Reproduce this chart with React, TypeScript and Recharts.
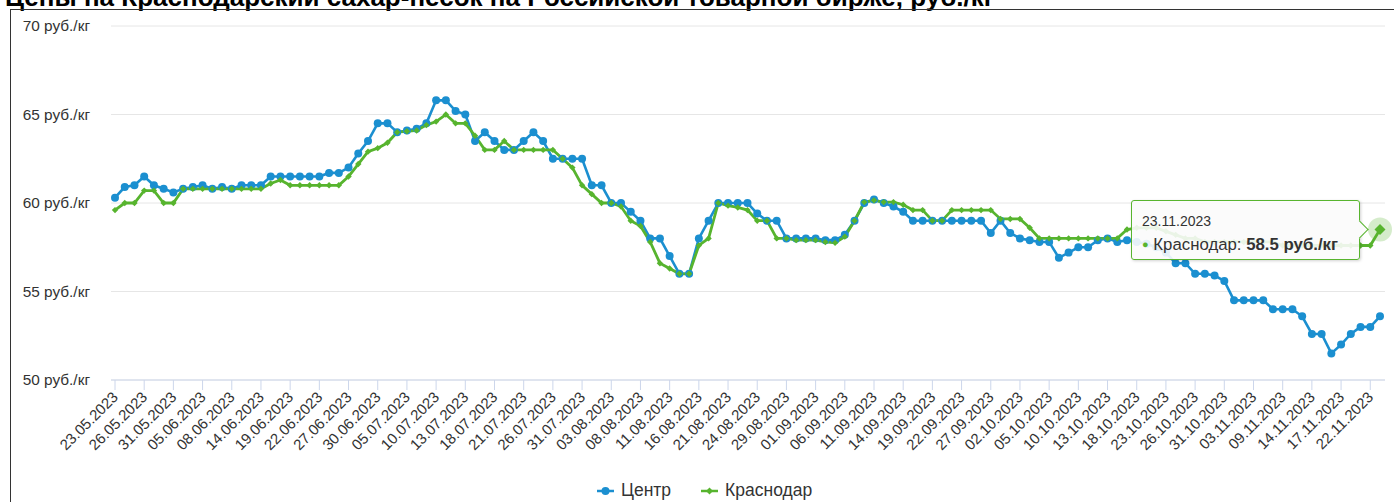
import { LineChart, Line, XAxis, YAxis, CartesianGrid, Tooltip, Legend } from "recharts";

const title = "Цены на Краснодарский сахар-песок на Российской товарной бирже, руб./кг";

// trading days, 23.05.2023 - 23.11.2023
const dates = [
  "23.05.2023", "24.05.2023", "25.05.2023", "26.05.2023", "29.05.2023", "30.05.2023", "31.05.2023",
  "01.06.2023", "02.06.2023", "05.06.2023", "06.06.2023", "07.06.2023", "08.06.2023", "09.06.2023",
  "13.06.2023", "14.06.2023", "15.06.2023", "16.06.2023", "19.06.2023", "20.06.2023", "21.06.2023",
  "22.06.2023", "23.06.2023", "26.06.2023", "27.06.2023", "28.06.2023", "29.06.2023", "30.06.2023",
  "03.07.2023", "04.07.2023", "05.07.2023", "06.07.2023", "07.07.2023", "10.07.2023", "11.07.2023",
  "12.07.2023", "13.07.2023", "14.07.2023", "17.07.2023", "18.07.2023", "19.07.2023", "20.07.2023",
  "21.07.2023", "24.07.2023", "25.07.2023", "26.07.2023", "27.07.2023", "28.07.2023", "31.07.2023",
  "01.08.2023", "02.08.2023", "03.08.2023", "04.08.2023", "07.08.2023", "08.08.2023", "09.08.2023",
  "10.08.2023", "11.08.2023", "14.08.2023", "15.08.2023", "16.08.2023", "17.08.2023", "18.08.2023",
  "21.08.2023", "22.08.2023", "23.08.2023", "24.08.2023", "25.08.2023", "28.08.2023", "29.08.2023",
  "30.08.2023", "31.08.2023", "01.09.2023", "04.09.2023", "05.09.2023", "06.09.2023", "07.09.2023",
  "08.09.2023", "11.09.2023", "12.09.2023", "13.09.2023", "14.09.2023", "15.09.2023", "18.09.2023",
  "19.09.2023", "20.09.2023", "21.09.2023", "22.09.2023", "25.09.2023", "26.09.2023", "27.09.2023",
  "28.09.2023", "29.09.2023", "02.10.2023", "03.10.2023", "04.10.2023", "05.10.2023", "06.10.2023",
  "09.10.2023", "10.10.2023", "11.10.2023", "12.10.2023", "13.10.2023", "16.10.2023", "17.10.2023",
  "18.10.2023", "19.10.2023", "20.10.2023", "23.10.2023", "24.10.2023", "25.10.2023", "26.10.2023",
  "27.10.2023", "30.10.2023", "31.10.2023", "01.11.2023", "02.11.2023", "03.11.2023", "07.11.2023",
  "08.11.2023", "09.11.2023", "10.11.2023", "13.11.2023", "14.11.2023", "15.11.2023", "16.11.2023",
  "17.11.2023", "20.11.2023", "21.11.2023", "22.11.2023", "23.11.2023",
];

const centr = [
  60.3, 60.9, 61.0, 61.5, 61.0, 60.8, 60.6, 60.8, 60.9, 61.0,
  60.8, 60.9, 60.8, 61.0, 61.0, 61.0, 61.5, 61.5, 61.5, 61.5,
  61.5, 61.5, 61.7, 61.7, 62.0, 62.8, 63.5, 64.5, 64.5, 64.0,
  64.1, 64.2, 64.5, 65.8, 65.8, 65.2, 65.0, 63.5, 64.0, 63.5,
  63.0, 63.0, 63.5, 64.0, 63.5, 62.5, 62.5, 62.5, 62.5, 61.0,
  61.0, 60.0, 60.0, 59.5, 59.0, 58.0, 58.0, 57.0, 56.0, 56.0,
  58.0, 59.0, 60.0, 60.0, 60.0, 60.0, 59.4, 59.0, 59.0, 58.0,
  58.0, 58.0, 58.0, 57.9, 57.9, 58.2, 59.0, 60.0, 60.2, 60.0,
  59.8, 59.5, 59.0, 59.0, 59.0, 59.0, 59.0, 59.0, 59.0, 59.0,
  58.3, 59.0, 58.3, 58.0, 57.9, 57.8, 57.8, 56.9, 57.2, 57.5,
  57.5, 57.9, 58.0, 57.8, 57.9, 57.8, 57.7, 57.5, 57.2, 56.6,
  56.6, 56.0, 56.0, 55.9, 55.6, 54.5, 54.5, 54.5, 54.5, 54.0,
  54.0, 54.0, 53.6, 52.6, 52.6, 51.5, 52.0, 52.6, 53.0, 53.0,
  53.6,
];

const krasnodar = [
  59.6, 60.0, 60.0, 60.7, 60.7, 60.0, 60.0, 60.8, 60.8, 60.8,
  60.8, 60.8, 60.8, 60.8, 60.8, 60.8, 61.1, 61.3, 61.0, 61.0,
  61.0, 61.0, 61.0, 61.0, 61.5, 62.2, 62.9, 63.1, 63.4, 64.0,
  64.05, 64.1, 64.4, 64.6, 65.0, 64.5, 64.5, 63.8, 63.0, 63.0,
  63.5, 63.0, 63.0, 63.0, 63.0, 63.0, 62.5, 62.0, 61.0, 60.5,
  60.0, 60.0, 59.8, 59.0, 58.7, 57.8, 56.6, 56.3, 56.0, 56.0,
  57.6, 58.0, 60.0, 59.85, 59.75, 59.6, 59.0, 59.0, 58.0, 58.0,
  57.9, 57.9, 57.9, 57.8, 57.75, 58.1, 59.0, 60.05, 60.15, 60.05,
  60.05, 59.9, 59.6, 59.6, 59.0, 59.0, 59.6, 59.6, 59.6, 59.6,
  59.6, 59.1, 59.1, 59.1, 58.6, 58.0, 58.0, 58.0, 58.0, 58.0,
  58.0, 58.0, 58.0, 58.0, 58.5, 58.6, 58.6, 58.6, 58.4, 58.2,
  58.0, 58.0, 57.8, 57.8, 57.8, 57.8, 57.8, 57.8, 57.8, 57.8,
  57.6, 57.6, 57.6, 57.6, 57.6, 57.6, 57.6, 57.6, 57.6, 57.6,
  58.5,
];

const seriesNames = ["Центр", "Краснодар"];
const yTicks = [50, 55, 60, 65, 70];

const data = dates.map((date, i) => ({ date, centr: centr[i], krasnodar: krasnodar[i] }));

const BLUE = "#1b8fd0";
const GREEN = "#57b42e";
const FONT = '"Liberation Sans", Arial, sans-serif';

function DateTick(props: any) {
  const { x, y, payload } = props;
  const ax = x + 4;
  const ay = y + 6;
  return (
    <text
      x={ax}
      y={ay}
      transform={`rotate(-45 ${ax} ${ay})`}
      textAnchor="end"
      fontSize={15}
      fill="#333"
      fontFamily={FONT}
    >
      {payload.value}
    </text>
  );
}

function diamondPath(cx: number, cy: number, r: number) {
  return `M${cx} ${cy - r}L${cx + r} ${cy}L${cx} ${cy + r}L${cx - r} ${cy}Z`;
}

function GreenDot(props: any) {
  const { cx, cy, index } = props;
  if (cx == null || cy == null) return <g key={index} />;
  return <path key={index} d={diamondPath(cx, cy, 3.2)} fill={GREEN} />;
}

function GreenActive(props: any) {
  const { cx, cy } = props;
  return (
    <g>
      <circle cx={cx} cy={cy} r={12} fill={GREEN} fillOpacity={0.25} />
      <path d={diamondPath(cx, cy, 5.5)} fill={GREEN} />
    </g>
  );
}

function TipBox(props: any) {
  const { active, payload, label } = props;
  if (!active || !payload || !payload.length) return null;
  const item = payload.find((p: any) => p.dataKey === "krasnodar");
  if (!item) return null;
  return (
    <div
      style={{
        position: "relative",
        width: 227,
        height: 58,
        background: "rgba(251,251,251,0.9)",
        border: `1px solid ${GREEN}`,
        borderRadius: 3,
        boxShadow: "1px 1px 3px rgba(0,0,0,0.18)",
        fontFamily: FONT,
        color: "#333",
      }}
    >
      <div
        style={{
          position: "absolute",
          right: -7,
          top: 22,
          width: 12,
          height: 12,
          transform: "rotate(45deg)",
          background: "rgba(251,251,251,1)",
          borderTop: `1px solid ${GREEN}`,
          borderRight: `1px solid ${GREEN}`,
        }}
      />
      <div style={{ position: "absolute", left: 10, top: 12, fontSize: 14, lineHeight: "16px" }}>{label}</div>
      <div style={{ position: "absolute", left: 10, top: 33, fontSize: 16.8, lineHeight: "20px", whiteSpace: "nowrap" }}>
        <span style={{ color: GREEN, fontSize: 11, verticalAlign: "2px" }}>●</span> Краснодар:{" "}
        <b>{item.value} руб./кг</b>
      </div>
    </div>
  );
}

function LegendBox(props: any) {
  const items = [...(props.payload || [])].sort(
    (a: any, b: any) => seriesNames.indexOf(a.value) - seriesNames.indexOf(b.value)
  );
  return (
    <div style={{ display: "flex", alignItems: "center", fontFamily: FONT, fontSize: 17.5, color: "#333" }}>
      {items.map((p: any) => (
        <div key={p.value} style={{ display: "flex", alignItems: "center", marginRight: 30 }}>
          <svg width={17} height={12} style={{ marginRight: 7 }}>
            <line x1={0} y1={6} x2={17} y2={6} stroke={p.color} strokeWidth={2.5} />
            {p.value === seriesNames[0] ? (
              <circle cx={8.5} cy={6} r={4} fill={p.color} />
            ) : (
              <path d={diamondPath(8.5, 6, 3.5)} fill={p.color} />
            )}
          </svg>
          <span>{p.value}</span>
        </div>
      ))}
    </div>
  );
}

export default function App() {
  return (
    <div
      style={{
        position: "absolute",
        left: 0,
        top: 0,
        width: 1394,
        height: 502,
        overflow: "hidden",
        background: "#fff",
        fontFamily: FONT,
      }}
    >
      <div
        style={{
          position: "absolute",
          left: 5,
          top: -15,
          fontSize: 26,
          lineHeight: "25px",
          fontWeight: "bold",
          color: "#000",
          whiteSpace: "nowrap",
        }}
      >
        {title}
      </div>
      <div
        style={{
          position: "absolute",
          left: 10,
          top: 9,
          width: 1390,
          height: 500,
          borderLeft: "1px solid #333",
          borderTop: "1px solid #333",
        }}
      />
      <div style={{ position: "absolute", left: 0, top: 0 }}>
        <LineChart width={1394} height={502} data={data} margin={{ top: 26, right: 9, bottom: 0, left: 0 }}>
          <CartesianGrid vertical={false} stroke="#e6e6e6" />
          <XAxis
            dataKey="date"
            interval={2}
            height={122}
            tickSize={10}
            padding={{ left: 4, right: 5 }}
            axisLine={{ stroke: "#ccd6eb" }}
            tickLine={{ stroke: "#ccd6eb" }}
            tick={<DateTick />}
          />
          <YAxis
            domain={[50, 70]}
            ticks={yTicks}
            width={111}
            axisLine={false}
            tickLine={false}
            tickSize={0}
            tickMargin={21}
            tickFormatter={(v) => `${v} руб./кг`}
            tick={{ fontSize: 15.4, fill: "#333", fontFamily: FONT }}
          />
          <Tooltip
            defaultIndex={130}
            cursor={false}
            position={{ x: 1131, y: 200 }}
            content={<TipBox />}
            wrapperStyle={{ outline: "none" }}
          />
          <Legend
            layout="horizontal"
            verticalAlign="middle"
            align="center"
            wrapperStyle={{ top: 480, left: 597, width: 300, height: 24 }}
            content={<LegendBox />}
          />
          <Line
            name={seriesNames[0]}
            type="linear"
            dataKey="centr"
            stroke={BLUE}
            strokeWidth={2.6}
            dot={{ r: 4, fill: BLUE, stroke: "none" }}
            activeDot={false}
            isAnimationActive={false}
          />
          <Line
            name={seriesNames[1]}
            type="linear"
            dataKey="krasnodar"
            stroke={GREEN}
            strokeWidth={2.8}
            dot={(p: any) => <GreenDot key={p.index} {...p} />}
            activeDot={(p: any) => <GreenActive {...p} />}
            isAnimationActive={false}
          />
        </LineChart>
      </div>
    </div>
  );
}
